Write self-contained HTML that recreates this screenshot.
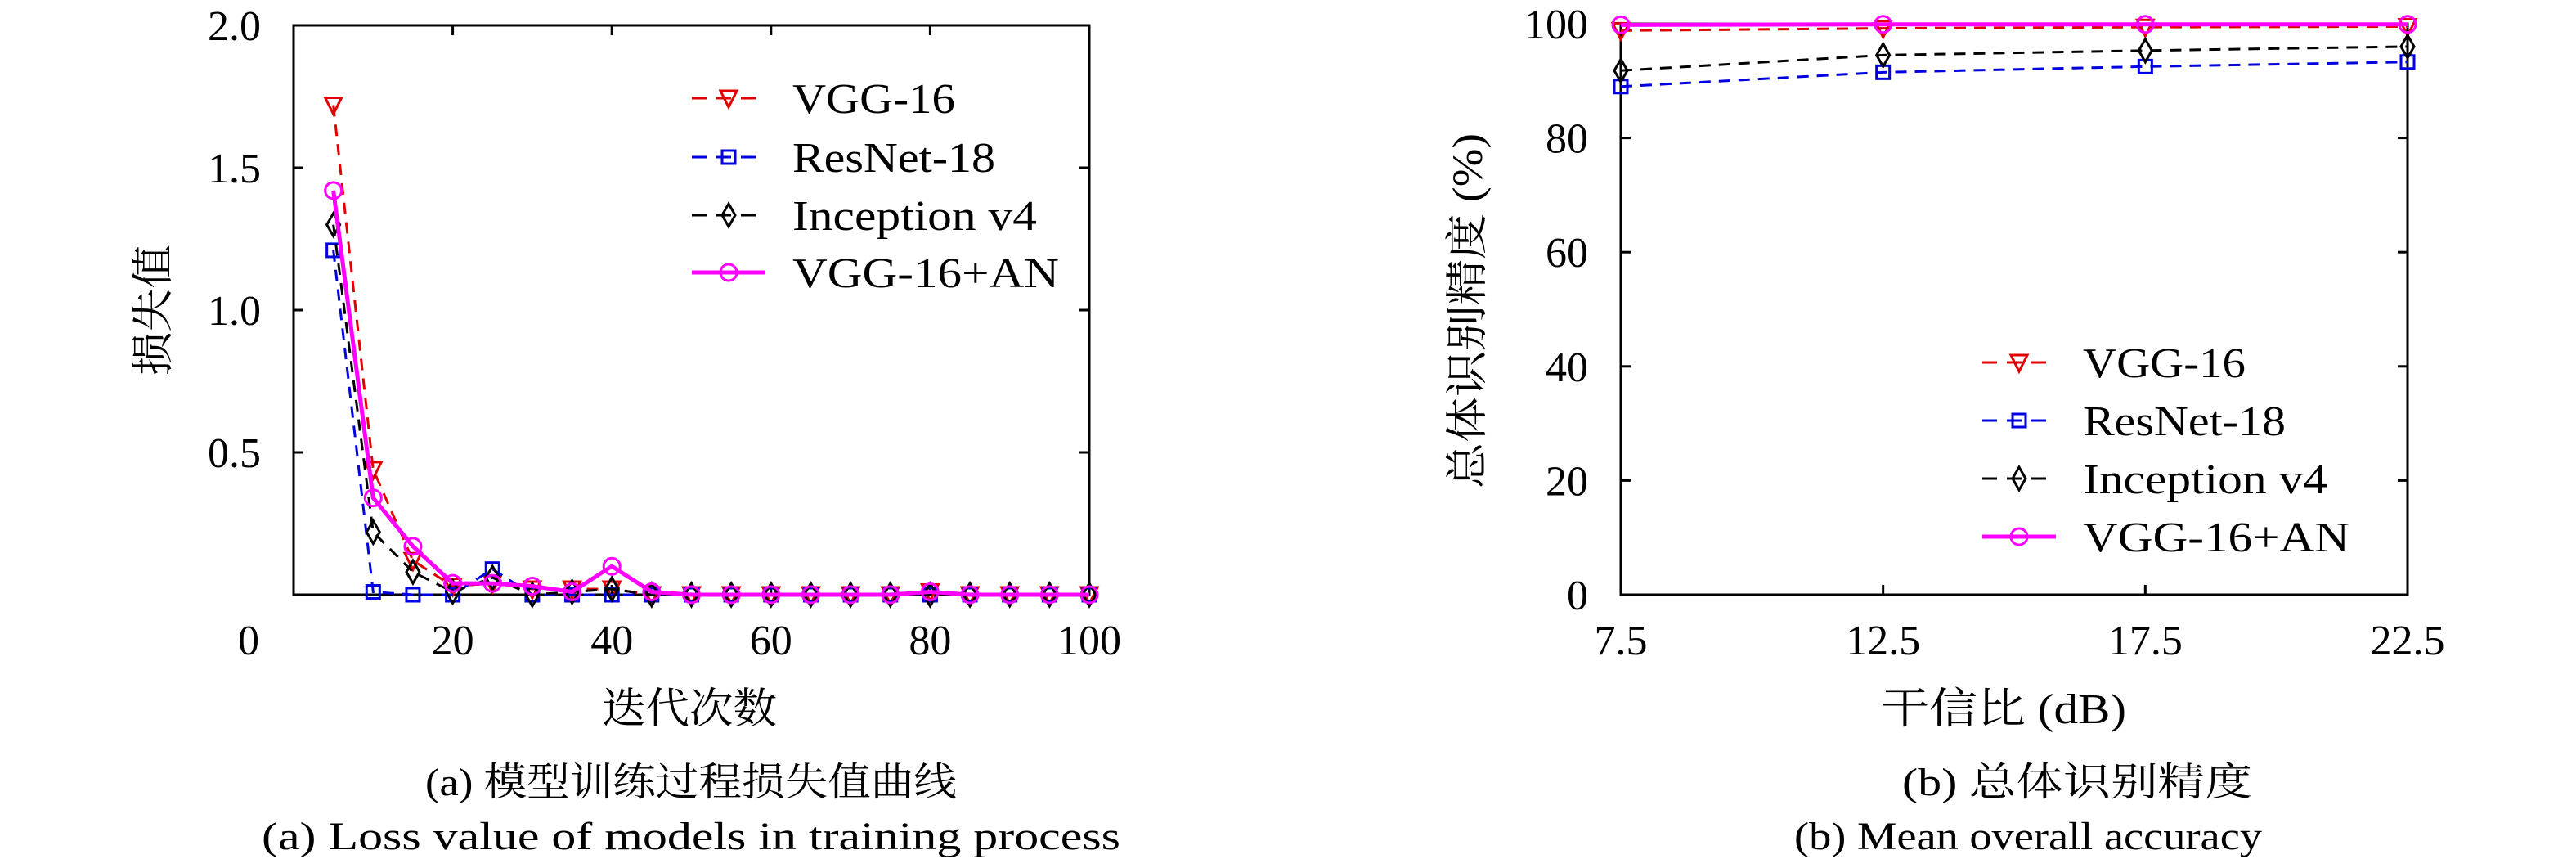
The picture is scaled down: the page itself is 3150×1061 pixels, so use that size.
<!DOCTYPE html>
<html><head><meta charset="utf-8"><style>
html,body{margin:0;padding:0;background:#fff;}
svg text{font-family:"Liberation Serif","Noto Serif CJK SC",serif;fill:#000;}
</style></head><body>
<svg id="fig" width="3150" height="1056" xmlns="http://www.w3.org/2000/svg">
<g id="pa"></g>
<g id="pb"></g>
<text x="843" y="884" font-size="52" text-anchor="middle" textLength="214" lengthAdjust="spacingAndGlyphs">迭代次数</text>
<text transform="translate(205,379) rotate(-90)" font-size="52" text-anchor="middle" textLength="160" lengthAdjust="spacingAndGlyphs">损失值</text>
<text x="2450" y="884" font-size="52" text-anchor="middle" textLength="300" lengthAdjust="spacingAndGlyphs">干信比 (dB)</text>
<text transform="translate(1812,380) rotate(-90)" font-size="52" text-anchor="middle" textLength="434" lengthAdjust="spacingAndGlyphs">总体识别精度 (%)</text>
<text x="845" y="972" font-size="48" text-anchor="middle" textLength="650" lengthAdjust="spacingAndGlyphs">(a) 模型训练过程损失值曲线</text>
<text x="845" y="1038" font-size="48" text-anchor="middle" textLength="1050" lengthAdjust="spacingAndGlyphs">(a) Loss value of models in training process</text>
<text x="2540" y="972" font-size="48" text-anchor="middle" textLength="428" lengthAdjust="spacingAndGlyphs">(b) 总体识别精度</text>
<text x="2480" y="1038" font-size="48" text-anchor="middle" textLength="572" lengthAdjust="spacingAndGlyphs">(b) Mean overall accuracy</text>
</svg>
<script>
const lossEpochs=[5,10,15,20,25,30,35,40,45,50,55,60,65,70,75,80,85,90,95,100];
const lossVGG=[1.72,0.44,0.12,0.03,0.04,0.02,0.02,0.02,0,0,0,0,0,0,0,0.01,0,0,0,0];
const lossResNet=[1.21,0.01,0,0,0.09,0,0,0,0,0,0,0,0,0,0,0,0,0,0,0];
const lossInception=[1.30,0.22,0.08,0.01,0.06,0,0.01,0.02,0,0,0,0,0,0,0,0,0,0,0,0];
const lossAN=[1.42,0.34,0.17,0.04,0.04,0.03,0.01,0.10,0.01,0,0,0,0,0,0,0.01,0,0,0,0];
const lossXTicks=[0,20,40,60,80,100];
const lossYTicks=[0.5,1.0,1.5,2.0];
const snrCats=[7.5,12.5,17.5,22.5];
const accVGG=[98.8,99.2,99.4,99.5];
const accResNet=[89.0,91.5,92.5,93.3];
const accInception=[91.8,94.5,95.3,96.0];
const accAN=[99.8,99.9,99.9,99.9];
const accYTicks=[0,20,40,60,80,100];
const seriesNames=["VGG-16","ResNet-18","Inception v4","VGG-16+AN"];
const legendLens=[199,248,299,326];

const NS="http://www.w3.org/2000/svg";
function mk(p,t,a){const e=document.createElementNS(NS,t);for(const k in a)e.setAttribute(k,a[k]);p.appendChild(e);return e;}
const styles=[
 {c:"#e00000",d:"14,10",w:3,m:"tri"},
 {c:"#0000e0",d:"14,10",w:3,m:"sq"},
 {c:"#000",d:"14,10",w:3,m:"dia"},
 {c:"#ff00ff",d:"",w:5,m:"circ"}];
function marker(g,x,y,s){
 let e;
 if(s.m==="tri"){e=mk(g,"polygon",{points:`${x-10},${y-9} ${x+10},${y-9} ${x},${y+11}`});}
 else if(s.m==="sq"){e=mk(g,"rect",{x:x-8,y:y-8,width:16,height:16});}
 else if(s.m==="dia"){e=mk(g,"polygon",{points:`${x},${y-14} ${x+8},${y} ${x},${y+14} ${x-8},${y}`});}
 else {e=mk(g,"circle",{cx:x,cy:y,r:10});}
 e.setAttribute("fill","none");e.setAttribute("stroke",s.c);e.setAttribute("stroke-width",3);
 
 
}
function series(g,xs,ys,X,Y,s,name){
 const sg=mk(g,"g",{});
 
 
 const pts=xs.map((v,i)=>X(v)+","+Y(ys[i])).join(" ");
 const pl=mk(sg,"polyline",{points:pts,fill:"none",stroke:s.c,"stroke-width":s.w,"stroke-dasharray":s.d});
 
 
 xs.forEach((v,i)=>marker(sg,X(v),Y(ys[i]),s));
}
function legend(g,x0,ys){
 seriesNames.forEach((n,i)=>{
  const s=styles[i],y=ys[i];
  const lg=mk(g,"g",{});
  
  
  mk(lg,"line",{x1:x0,y1:y,x2:x0+90,y2:y,stroke:s.c,"stroke-width":s.w,"stroke-dasharray":s.d?"18,12":""});
  marker(lg,x0+45,y,s);
  const t=mk(lg,"text",{x:x0+123,y:y+18,"font-size":52,textLength:legendLens[i],lengthAdjust:"spacingAndGlyphs"});t.textContent=n;
 });
}
function frame(g,L,R,T,B){
 const r=mk(g,"rect",{x:L,y:T,width:R-L,height:B-T,fill:"none",stroke:"#000","stroke-width":3});
 
 
}
(function(){
 const g=document.getElementById("pa");
 const L=359,R=1332,T=31,B=727;
 const X=v=>L+(v-0)/100*(R-L), Y=v=>B-(v/2)*(B-T);
 frame(g,L,R,T,B);
 lossXTicks.forEach(v=>{
  mk(g,"line",{x1:X(v),y1:B,x2:X(v),y2:B-12,stroke:"#000","stroke-width":3});
  mk(g,"line",{x1:X(v),y1:T,x2:X(v),y2:T+12,stroke:"#000","stroke-width":3});
  const t=mk(g,"text",{x:v===0?L-55:X(v),y:800,"font-size":52,"text-anchor":"middle"});t.textContent=v;
  
  
 });
 lossYTicks.forEach(v=>{
  mk(g,"line",{x1:L,y1:Y(v),x2:L+12,y2:Y(v),stroke:"#000","stroke-width":3});
  mk(g,"line",{x1:R,y1:Y(v),x2:R-12,y2:Y(v),stroke:"#000","stroke-width":3});
  const t=mk(g,"text",{x:L-40,y:Y(v)+18,"font-size":52,"text-anchor":"end"});t.textContent=v.toFixed(1);
  
  
 });
 [lossVGG,lossResNet,lossInception,lossAN].forEach((d,i)=>series(g,lossEpochs,d,X,Y,styles[i],"series-"+i));
 legend(g,846,[120,192,263,333]);
})();
(function(){
 const g=document.getElementById("pb");
 const L=1982,R=2944,T=29,B=727;
 const X=v=>L+(v-7.5)/15*(R-L), Y=v=>B-(v/100)*(B-T);
 frame(g,L,R,T,B);
 snrCats.forEach(v=>{
  mk(g,"line",{x1:X(v),y1:B,x2:X(v),y2:B-12,stroke:"#000","stroke-width":3});
  const t=mk(g,"text",{x:X(v),y:800,"font-size":52,"text-anchor":"middle"});t.textContent=v;
  
  
 });
 accYTicks.forEach(v=>{
  mk(g,"line",{x1:L,y1:Y(v),x2:L+12,y2:Y(v),stroke:"#000","stroke-width":3});
  mk(g,"line",{x1:R,y1:Y(v),x2:R-12,y2:Y(v),stroke:"#000","stroke-width":3});
  const t=mk(g,"text",{x:L-40,y:Y(v)+18,"font-size":52,"text-anchor":"end"});t.textContent=v;
  
  
 });
 [accVGG,accResNet,accInception,accAN].forEach((d,i)=>series(g,snrCats,d,X,Y,styles[i],"series-"+i));
 legend(g,2424,[443,514,585,656]);
})();
</script>
</body></html>
